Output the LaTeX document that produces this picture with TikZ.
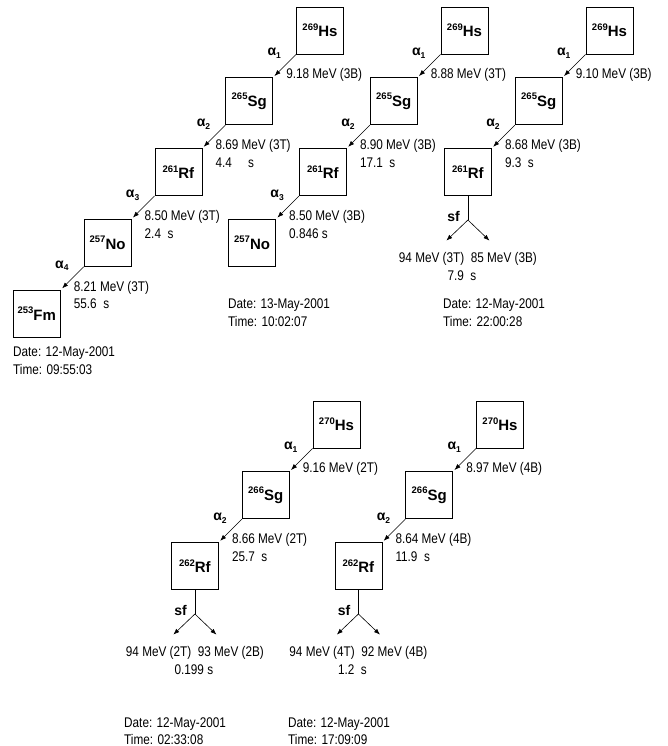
\documentclass[tikz,border=0pt]{standalone}
\usepackage{fontspec}
\setmainfont{Liberation Sans}
\newfontfamily\narrowfont[FakeStretch=0.84]{Liberation Sans}
\usetikzlibrary{arrows.meta,positioning,calc}

\tikzset{
  nuc/.style={draw, line width=0.8pt, minimum size=47pt, inner sep=0pt,
    font=\bfseries\fontsize{15}{15}\selectfont},
  decay/.style={-{Latex[length=6pt,width=4.5pt]}, line width=0.6pt, shorten >=2pt},
  mode/.style={anchor=east, inner sep=0pt, font=\bfseries\fontsize{14}{14}\selectfont},
  elab/.style={anchor=base west, align=left, inner sep=0pt,
    font=\narrowfont\fontsize{14}{17.5}\selectfont},
  elabb/.style={elab, yshift=-17.5pt},
  flab/.style={anchor=base, inner sep=0pt, font=\narrowfont\fontsize{14}{14}\selectfont},
  stamp/.style={anchor=base west, align=left, inner sep=0pt, yshift=-17.5pt,
    font=\narrowfont\fontsize{14}{17.5}\selectfont},
}
\newcommand{\iso}[2]{\raisebox{0.42em}{\fontsize{9.5}{9.5}\selectfont #1}#2}
\newcommand{\alp}[1]{α\raisebox{-0.2em}{\fontsize{8.5}{8.5}\selectfont #1}}

\begin{document}
\begin{tikzpicture}[x=1pt, y=-1pt]
\useasboundingbox (0,0) rectangle (667,746);
% chain A
\node[nuc] (hsA) at (320,30.5) {\iso{269}{Hs}};
\node[nuc, below left=23pt and 23pt of hsA] (sgA) {\iso{265}{Sg}};
\node[nuc, below left=23pt and 23pt of sgA] (rfA) {\iso{261}{Rf}};
\node[nuc, below left=23pt and 23pt of rfA] (noA) {\iso{257}{No}};
\node[nuc, below left=23pt and 23pt of noA] (fmA) {\iso{253}{Fm}};
\draw[decay] (hsA.south west) -- (sgA.north east);
\draw[decay] (sgA.south west) -- (rfA.north east);
\draw[decay] (rfA.south west) -- (noA.north east);
\draw[decay] (noA.south west) -- (fmA.north east);
\node[mode] (aA1) at ($(hsA.south west)+(-15,-1)$) {\alp{1}};
\node[mode] (aA2) at ($(sgA.south west)+(-15,-1)$) {\alp{2}};
\node[mode] (aA3) at ($(rfA.south west)+(-15,-1)$) {\alp{3}};
\node[mode] (aA4) at ($(noA.south west)+(-15,-1)$) {\alp{4}};
\node[elab] (eA1) at ($(sgA.north east)+(13,1.5)$) {9.18 MeV (3B)};
\node[elabb] (eA2) at ($(rfA.north east)+(13,1.5)$) {8.69 MeV (3T)\\4.4~~~~~s};
\node[elabb] (eA3) at ($(noA.north east)+(13,1.5)$) {8.50 MeV (3T)\\2.4~~s};
\node[elabb] (eA4) at ($(fmA.north east)+(13,1.5)$) {8.21 MeV (3T)\\55.6~~s};
\node[stamp] (tA) at (13,356.5) {Date: 12-May-2001\\Time: 09:55:03};
% chain B
\node[nuc] (hsB) at (464.5,30.5) {\iso{269}{Hs}};
\node[nuc, below left=23pt and 23pt of hsB] (sgB) {\iso{265}{Sg}};
\node[nuc, below left=23pt and 23pt of sgB] (rfB) {\iso{261}{Rf}};
\node[nuc, below left=23pt and 23pt of rfB] (noB) {\iso{257}{No}};
\draw[decay] (hsB.south west) -- (sgB.north east);
\draw[decay] (sgB.south west) -- (rfB.north east);
\draw[decay] (rfB.south west) -- (noB.north east);
\node[mode] (aB1) at ($(hsB.south west)+(-15,-1)$) {\alp{1}};
\node[mode] (aB2) at ($(sgB.south west)+(-15,-1)$) {\alp{2}};
\node[mode] (aB3) at ($(rfB.south west)+(-15,-1)$) {\alp{3}};
\node[elab] (eB1) at ($(sgB.north east)+(13,1.5)$) {8.88 MeV (3T)};
\node[elabb] (eB2) at ($(rfB.north east)+(13,1.5)$) {8.90 MeV (3B)\\17.1~~s};
\node[elabb] (eB3) at ($(noB.north east)+(13,1.5)$) {8.50 MeV (3B)\\0.846 s};
\node[stamp] (tB) at (228,308.5) {Date: 13-May-2001\\Time: 10:02:07};
% chain C
\node[nuc] (hsC) at (609.5,30.5) {\iso{269}{Hs}};
\node[nuc, below left=23pt and 23pt of hsC] (sgC) {\iso{265}{Sg}};
\node[nuc, below left=23pt and 23pt of sgC] (rfC) {\iso{261}{Rf}};
\draw[decay] (hsC.south west) -- (sgC.north east);
\draw[decay] (sgC.south west) -- (rfC.north east);
\node[mode] (aC1) at ($(hsC.south west)+(-15,-1)$) {\alp{1}};
\node[mode] (aC2) at ($(sgC.south west)+(-15,-1)$) {\alp{2}};
\node[elab] (eC1) at ($(sgC.north east)+(13,1.5)$) {9.10 MeV (3B)};
\node[elabb] (eC2) at ($(rfC.north east)+(13,1.5)$) {8.68 MeV (3B)\\9.3~~s};
\coordinate (fC) at ($(rfC.south)+(0,24)$);
\coordinate (fCl) at ($(fC)+(-23,22)$);
\coordinate (fCr) at ($(fC)+(23,22)$);
\draw[line width=0.6pt] (rfC.south) -- (fC);
\draw[decay] (fC) -- (fCl);
\draw[decay] (fC) -- (fCr);
\node[mode] (sfC) at ($(fC)+(-8,-4)$) {sf};
\node[flab] (kC) at ($(fC)+(0,42)$) {94 MeV (3T)~~85 MeV (3B)};
\node[elab] (lC) at ($(fC)+(-20.5,60)$) {7.9~~s};
\node[stamp] (tC) at (443,308.5) {Date: 12-May-2001\\Time: 22:00:28};
% chain D
\node[nuc] (hsD) at (336.5,424.5) {\iso{270}{Hs}};
\node[nuc, below left=23pt and 23pt of hsD] (sgD) {\iso{266}{Sg}};
\node[nuc, below left=23pt and 23pt of sgD] (rfD) {\iso{262}{Rf}};
\draw[decay] (hsD.south west) -- (sgD.north east);
\draw[decay] (sgD.south west) -- (rfD.north east);
\node[mode] (aD1) at ($(hsD.south west)+(-15,-1)$) {\alp{1}};
\node[mode] (aD2) at ($(sgD.south west)+(-15,-1)$) {\alp{2}};
\node[elab] (eD1) at ($(sgD.north east)+(13,1.5)$) {9.16 MeV (2T)};
\node[elabb] (eD2) at ($(rfD.north east)+(13,1.5)$) {8.66 MeV (2T)\\25.7~~s};
\coordinate (fD) at ($(rfD.south)+(0,24)$);
\coordinate (fDl) at ($(fD)+(-23,22)$);
\coordinate (fDr) at ($(fD)+(23,22)$);
\draw[line width=0.6pt] (rfD.south) -- (fD);
\draw[decay] (fD) -- (fDl);
\draw[decay] (fD) -- (fDr);
\node[mode] (sfD) at ($(fD)+(-8,-4)$) {sf};
\node[flab] (kD) at ($(fD)+(0,42)$) {94 MeV (2T)~~93 MeV (2B)};
\node[elab] (lD) at ($(fD)+(-20.5,60)$) {0.199 s};
\node[stamp] (tD) at (124,727) {Date: 12-May-2001\\Time: 02:33:08};
% chain E
\node[nuc] (hsE) at (500,424.5) {\iso{270}{Hs}};
\node[nuc, below left=23pt and 23pt of hsE] (sgE) {\iso{266}{Sg}};
\node[nuc, below left=23pt and 23pt of sgE] (rfE) {\iso{262}{Rf}};
\draw[decay] (hsE.south west) -- (sgE.north east);
\draw[decay] (sgE.south west) -- (rfE.north east);
\node[mode] (aE1) at ($(hsE.south west)+(-15,-1)$) {\alp{1}};
\node[mode] (aE2) at ($(sgE.south west)+(-15,-1)$) {\alp{2}};
\node[elab] (eE1) at ($(sgE.north east)+(13,1.5)$) {8.97 MeV (4B)};
\node[elabb] (eE2) at ($(rfE.north east)+(13,1.5)$) {8.64 MeV (4B)\\11.9~~s};
\coordinate (fE) at ($(rfE.south)+(0,24)$);
\coordinate (fEl) at ($(fE)+(-23,22)$);
\coordinate (fEr) at ($(fE)+(23,22)$);
\draw[line width=0.6pt] (rfE.south) -- (fE);
\draw[decay] (fE) -- (fEl);
\draw[decay] (fE) -- (fEr);
\node[mode] (sfE) at ($(fE)+(-8,-4)$) {sf};
\node[flab] (kE) at ($(fE)+(0,42)$) {94 MeV (4T)~~92 MeV (4B)};
\node[elab] (lE) at ($(fE)+(-20.5,60)$) {1.2~~s};
\node[stamp] (tE) at (288,727) {Date: 12-May-2001\\Time: 17:09:09};
\end{tikzpicture}
\end{document}
